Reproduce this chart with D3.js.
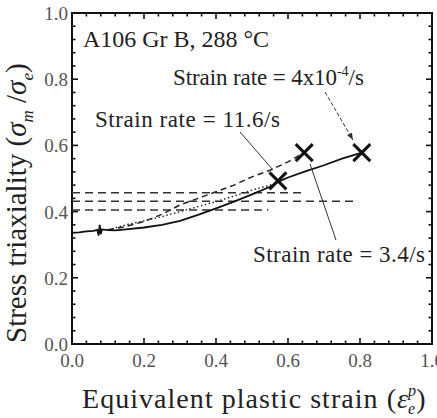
<!DOCTYPE html>
<html>
<head>
<meta charset="utf-8">
<script src="https://cdn.jsdelivr.net/npm/d3@7"></script>
<style>
  body { margin: 0; background: #fff; overflow: hidden; }
  svg { display: block; }
  text { font-family: "Liberation Serif", "Times New Roman", serif; }
</style>
</head>
<body>
<svg id="chart" width="437" height="418"></svg>
<script>
// data

const xTicks = [0, 0.2, 0.4, 0.6, 0.8, 1.0]
const yTicks = [0, 0.2, 0.4, 0.6, 0.8, 1.0]

// quasi-static, 4x10^-4/s (solid)
const slowCurve = [
  [0, 0.336], [0.02, 0.337], [0.04, 0.34], [0.06, 0.342], [0.07, 0.345],
  [0.074, 0.328], [0.077, 0.36], [0.08, 0.332], [0.083, 0.346], [0.1, 0.344],
  [0.12, 0.343], [0.15, 0.346], [0.2, 0.352], [0.25, 0.36], [0.3, 0.372],
  [0.35, 0.39], [0.4, 0.41], [0.45, 0.43], [0.5, 0.452], [0.55, 0.475],
  [0.572, 0.49], [0.6, 0.503], [0.65, 0.522], [0.7, 0.54], [0.75, 0.56], [0.805, 0.578]
]
// 3.4/s (dashed)
const midCurve = [
  [0.1, 0.345], [0.15, 0.355], [0.2, 0.37], [0.25, 0.392], [0.3, 0.42],
  [0.35, 0.44], [0.4, 0.46], [0.45, 0.48], [0.5, 0.505], [0.55, 0.525],
  [0.6, 0.55], [0.645, 0.578]
]
// 11.6/s (dotted)
const fastCurve = [
  [0.1, 0.345], [0.15, 0.36], [0.2, 0.372], [0.25, 0.385], [0.3, 0.4],
  [0.35, 0.415], [0.4, 0.43], [0.45, 0.447], [0.5, 0.465], [0.55, 0.48], [0.572, 0.492]
]

// failure points (X marks)
const failX = [0.572, 0.645, 0.805]
const failY = [0.493, 0.578, 0.578]

// average triaxiality, dashed horizontal lines
const avgY = [0.457, 0.431, 0.405]
const avgEnd = [0.64, 0.786, 0.545]

const labels = ['Strain rate = 4x10', 'Strain rate = 11.6/s', 'Strain rate = 3.4/s']


const svg = d3.select('#chart')
const m = { left: 72, right: 432, top: 13, bottom: 344 }

const x = d3.scaleLinear().domain([0, 1]).range([m.left, m.right])
const y = d3.scaleLinear().domain([0, 1]).range([m.bottom, m.top])

const minor = d3.range(0, 1.0001, 0.04)

// ticks, all four sides pointing in
const axisG = svg.append('g').attr('stroke', '#111').attr('stroke-width', 1.6)

minor.forEach(v => {
  let major = Math.abs(Math.round(v * 5) - v * 5) < 1e-6
  let len = major ? 6 : 3.5
  axisG.append('line').attr('x1', x(v)).attr('x2', x(v)).attr('y1', m.bottom).attr('y2', m.bottom - len)
  axisG.append('line').attr('x1', x(v)).attr('x2', x(v)).attr('y1', m.top).attr('y2', m.top + len)
  axisG.append('line').attr('y1', y(v)).attr('y2', y(v)).attr('x1', m.left).attr('x2', m.left + len)
  axisG.append('line').attr('y1', y(v)).attr('y2', y(v)).attr('x1', m.right).attr('x2', m.right - len)
})

svg.append('rect')
  .attr('x', m.left).attr('y', m.top)
  .attr('width', m.right - m.left).attr('height', m.bottom - m.top)
  .attr('fill', 'none').attr('stroke', '#111').attr('stroke-width', 2)

// tick labels
svg.append('g').selectAll('text').data(xTicks).join('text')
  .attr('x', d => x(d)).attr('y', 367)
  .attr('text-anchor', 'middle')
  .attr('font-size', 19).attr('fill', '#555')
  .text(d => d.toFixed(1))

svg.append('g').selectAll('text').data(yTicks).join('text')
  .attr('x', 68).attr('y', d => y(d) + 7)
  .attr('text-anchor', 'end')
  .attr('font-size', 19).attr('fill', '#555')
  .text(d => d.toFixed(1))

// average lines
avgY.forEach((v, i) => {
  svg.append('line')
    .attr('x1', x(0)).attr('x2', x(avgEnd[i]))
    .attr('y1', y(v)).attr('y2', y(v))
    .attr('stroke', '#333').attr('stroke-width', 1.5)
    .attr('stroke-dasharray', '8,5')
})

// curves
const line = d3.line().x(d => x(d[0])).y(d => y(d[1]))

svg.append('path').datum(fastCurve).attr('d', line)
  .attr('fill', 'none').attr('stroke', '#222').attr('stroke-width', 1.4)
  .attr('stroke-dasharray', '1.5,2.5')
svg.append('path').datum(midCurve).attr('d', line)
  .attr('fill', 'none').attr('stroke', '#222').attr('stroke-width', 1.5)
  .attr('stroke-dasharray', '6,4')
svg.append('path').datum(slowCurve).attr('d', line)
  .attr('fill', 'none').attr('stroke', '#111').attr('stroke-width', 1.8)

// X markers
failX.forEach((v, i) => {
  let cx = x(v), cy = y(failY[i]), r = 8.5
  svg.append('path')
    .attr('d', `M${cx - r},${cy - r}L${cx + r},${cy + r}M${cx - r},${cy + r}L${cx + r},${cy - r}`)
    .attr('stroke', '#111').attr('stroke-width', 3)
})

// annotations
svg.append('defs').append('marker')
  .attr('id', 'arr').attr('viewBox', '0 0 10 10')
  .attr('refX', 10).attr('refY', 5)
  .attr('markerWidth', 7).attr('markerHeight', 7)
  .attr('orient', 'auto')
  .append('path').attr('d', 'M0,1L10,5L0,9Z').attr('fill', '#333')

svg.append('text').attr('x', 83).attr('y', 47)
  .attr('font-size', 24).attr('fill', '#222')
  .attr('textLength', 186)
  .text('A106 Gr B, 288 °C')

let t1 = svg.append('text').attr('x', 173).attr('y', 85)
  .attr('font-size', 23).attr('fill', '#222')
t1.append('tspan').attr('textLength', 164).text(labels[0])
t1.append('tspan').attr('dy', -9).attr('font-size', 14).text('-4')
t1.append('tspan').attr('dy', 9).text('/s')

svg.append('text').attr('x', 95).attr('y', 127)
  .attr('font-size', 23).attr('fill', '#222')
  .attr('textLength', 185)
  .text(labels[1])

svg.append('text').attr('x', 253).attr('y', 262)
  .attr('font-size', 23).attr('fill', '#222')
  .attr('textLength', 172)
  .text(labels[2])

svg.append('line').attr('x1', 325).attr('y1', 92).attr('x2', 353).attr('y2', 140)
  .attr('stroke', '#333').attr('stroke-width', 1).attr('stroke-dasharray', '4,2')
  .attr('marker-end', 'url(#arr)')
svg.append('line').attr('x1', 240).attr('y1', 132).attr('x2', 273).attr('y2', 170)
  .attr('stroke', '#333').attr('stroke-width', 1)
svg.append('line').attr('x1', 336).attr('y1', 240).attr('x2', 310).attr('y2', 164)
  .attr('stroke', '#333').attr('stroke-width', 1)

// axis titles
let xt = svg.append('text').attr('x', 82).attr('y', 408)
  .attr('font-size', 28).attr('fill', '#222')
xt.append('tspan').attr('textLength', 314).text('Equivalent plastic strain (')
xt.append('tspan').attr('font-style', 'italic').text('ε')
xt.append('tspan').attr('font-style', 'italic').attr('font-size', 16).attr('dy', -12).text('p')
xt.append('tspan').attr('font-style', 'italic').attr('font-size', 16).attr('dx', -8).attr('dy', 18).text('e')
xt.append('tspan').attr('dy', -6).attr('dx', 1).text(')')

let yt = svg.append('text')
  .attr('transform', 'translate(26,343) rotate(-90)')
  .attr('font-size', 29).attr('fill', '#222')
yt.append('tspan').text('Stress triaxiality (')
yt.append('tspan').attr('font-style', 'italic').text('σ')
yt.append('tspan').attr('font-style', 'italic').attr('font-size', 17).attr('dy', 7).text('m')
yt.append('tspan').attr('dy', -7).text(' /')
yt.append('tspan').attr('font-style', 'italic').text('σ')
yt.append('tspan').attr('font-style', 'italic').attr('font-size', 17).attr('dy', 7).text('e')
yt.append('tspan').attr('dy', -7).text(')')
</script>
</body>
</html>
